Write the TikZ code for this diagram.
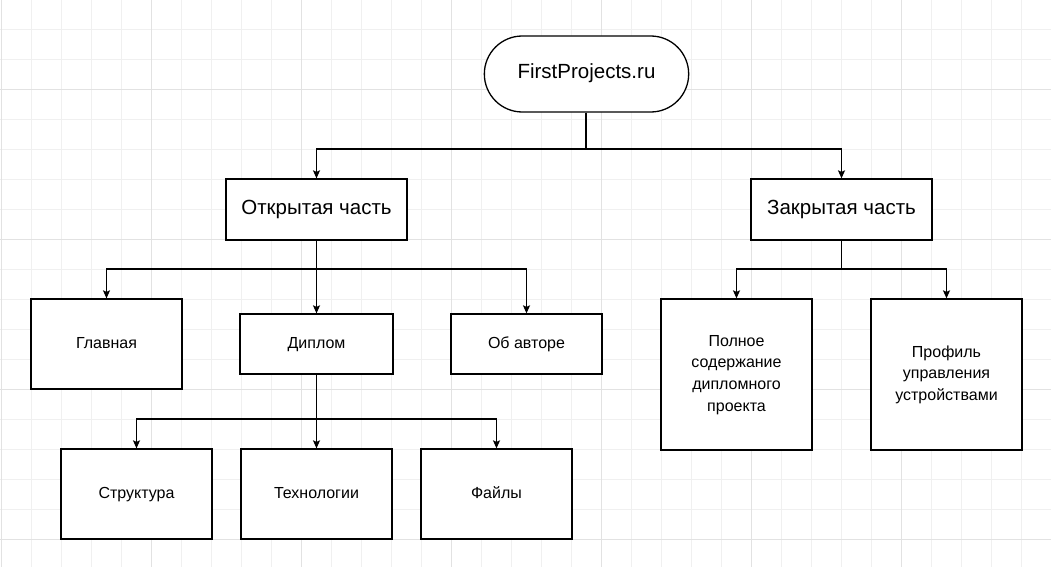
\documentclass[tikz,border=0pt]{standalone}
\usepackage{fontspec}
\setmainfont{Liberation Sans}
\usetikzlibrary{arrows.meta,shapes.misc}
\definecolor{gridminor}{HTML}{F0F0F0}
\definecolor{gridmajor}{HTML}{E2E2E2}
\newcommand{\stacklines}[1]{\raisebox{-2pt}{\begin{tabular}{@{}c@{}}#1\end{tabular}}}
\tikzset{
  box/.style={draw=black, line width=1.3pt, fill=white, rectangle, inner sep=2pt, align=center},
  oneline/.style={text height=1.1em, text depth=0.15em},
  bigtext/.style={font=\fontsize{20.5}{24}\selectfont},
  smalltext/.style={font=\fontsize{16}{21.7}\selectfont},
  link/.style={line width=1.3pt, -{Stealth[length=8pt,width=7pt,inset=1.5pt]}},
}
\begin{document}
\begin{tikzpicture}[x=1pt,y=-1pt]
  % page area and background grid
  \useasboundingbox (0,0) rectangle (1051,567);
  \fill[white] (0,0) rectangle (1051,567);
  \foreach \gx in {1,31,...,1051} \draw[gridminor, line width=0.8pt] (\gx,0) -- (\gx,567);
  \foreach \gy in {29,59,...,567} \draw[gridminor, line width=0.8pt] (0,\gy) -- (1051,\gy);
  \foreach \gx in {1,151,...,1051} \draw[gridmajor, line width=0.8pt] (\gx,0) -- (\gx,567);
  \foreach \gy in {89,239,...,567} \draw[gridmajor, line width=0.8pt] (0,\gy) -- (1051,\gy);

  % root
  \node[rounded rectangle, draw=black, line width=1.3pt, fill=white, bigtext, oneline,
        minimum width=211pt, minimum height=76pt] (root) at (586.5,74) {FirstProjects.ru};

  % first level
  \node[box, bigtext, oneline, minimum width=181pt, minimum height=61pt] (open) at (316.5,209.5) {Открытая часть};
  \node[box, bigtext, oneline, minimum width=181pt, minimum height=61pt] (closed) at (841.5,209.5) {Закрытая часть};

  % second level, open part
  \node[box, smalltext, oneline, minimum width=151pt, minimum height=90pt] (home) at (106.5,344) {Главная};
  \node[box, smalltext, oneline, minimum width=153pt, minimum height=60pt] (diplom) at (316.5,344) {Диплом};
  \node[box, smalltext, oneline, minimum width=151pt, minimum height=60pt] (author) at (526.5,344) {Об авторе};

  % second level, closed part
  \node[box, smalltext, minimum width=151pt, minimum height=151pt] (full) at (736.5,374.5)
    {\stacklines{Полное\\содержание\\дипломного\\проекта}};
  \node[box, smalltext, minimum width=151pt, minimum height=151pt] (profile) at (946.5,374.5)
    {\stacklines{Профиль\\управления\\устройствами}};

  % third level
  \node[box, smalltext, oneline, minimum width=151pt, minimum height=90pt] (struct) at (136.5,494) {Структура};
  \node[box, smalltext, oneline, minimum width=151pt, minimum height=90pt] (tech) at (316.5,494) {Технологии};
  \node[box, smalltext, oneline, minimum width=151pt, minimum height=90pt] (files) at (496.5,494) {Файлы};

  % bus junctions
  \coordinate (j0) at (586,149);
  \coordinate (j1) at (316.5,269);
  \coordinate (j2) at (841.5,269);
  \coordinate (j3) at (316.5,419);

  % connectors
  \draw[link] (root.south -| j0) -- (j0) -| (open.north);
  \draw[link] (root.south -| j0) -- (j0) -| (closed.north);

  \draw[link] (open.south) -- (j1) -| (home.north);
  \draw[link] (open.south) -- (diplom.north);
  \draw[link] (open.south) -- (j1) -| (author.north);

  \draw[link] (closed.south) -- (j2) -| (full.north);
  \draw[link] (closed.south) -- (j2) -| (profile.north);

  \draw[link] (diplom.south) -- (j3) -| (struct.north);
  \draw[link] (diplom.south) -- (tech.north);
  \draw[link] (diplom.south) -- (j3) -| (files.north);
\end{tikzpicture}
\end{document}
